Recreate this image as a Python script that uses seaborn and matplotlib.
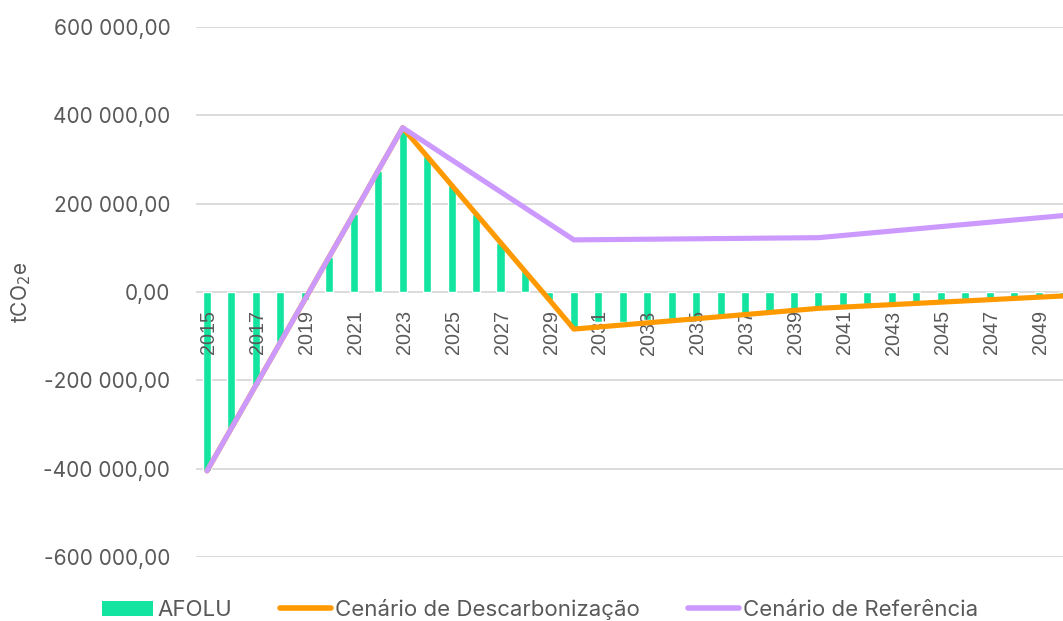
import matplotlib
matplotlib.use("Agg")
import matplotlib.pyplot as plt
import seaborn as sns
import pandas as pd
from matplotlib.patches import Patch
from matplotlib.lines import Line2D

# values (tCO2e)
years = list(range(2015, 2051))

afolu = [-405000, -308000, -211000, -114000, -17000, 80000, 177000, 275000, 372000,
         307000, 242000, 177000, 112000, 47000, -18000, -84000,
         -68000, -67000, -63000, -60000, -56000, -52000, -48500, -45000, -41000, -37000,
         -29500, -27000, -24000, -22000, -19500, -16500, -14500, -10500, -8500, -6000]

descarbonizacao = [-405000, -308000, -211000, -114000, -17000, 80000, 177000, 275000, 372000,
                   307000, 242000, 177000, 112000, 47000, -18000, -84000,
                   -79300, -74600, -69900, -65200, -60500, -55800, -51100, -46400, -41700, -37000,
                   -34200, -31400, -28600, -25800, -23000, -20200, -17400, -14600, -11800, -9000]

referencia = [-405000, -308000, -211000, -114000, -17000, 80000, 177000, 275000, 372000,
              335700, 299400, 263100, 226900, 190600, 154300, 118000,
              118500, 119000, 119500, 120000, 120500, 121000, 121500, 122000, 122500, 123000,
              128000, 133000, 138000, 143000, 148000, 153000, 158000, 163000, 168000, 173000]

label_years = list(range(2015, 2050, 2))

GREEN = "#13E4A0"
ORANGE = "#FF9900"
PURPLE = "#CC99FF"
GREY = "#595959"
GRID = "#D9D9D9"

sns.set_style("white")
plt.rcParams["font.family"] = ["Inter", "DejaVu Sans"]

df = pd.DataFrame({"ano": years, "AFOLU": afolu,
                   "desc": descarbonizacao, "ref": referencia})

fig = plt.figure(figsize=(10.63, 6.21), dpi=100)
ax = fig.add_axes([196 / 1063, 64 / 621, 1 - 196 / 1063, 530 / 621])

sns.barplot(data=df, x="ano", y="AFOLU", native_scale=True, color=GREEN,
            width=0.33, saturation=1, ax=ax, zorder=2)
sns.lineplot(data=df, x="ano", y="desc", color=ORANGE, lw=3.7, ax=ax, zorder=4,
             solid_capstyle="round")
sns.lineplot(data=df, x="ano", y="ref", color=PURPLE, lw=3.7, ax=ax, zorder=5,
             solid_capstyle="round")

ax.set_xlim(2014.55, 2050)
ax.set_ylim(-600000, 600000)
yt = list(range(-600000, 600001, 200000))
ax.set_yticks(yt)
ax.set_yticklabels([f"{v:,.2f}".replace(",", " ").replace(".", ",") for v in yt],
                   fontsize=15, color=GREY)
ax.yaxis.grid(True, color=GRID, lw=1.3, zorder=0)
ax.set_axisbelow(True)
ax.tick_params(axis="y", length=0, pad=18.5)

# year labels hang below the zero line, drawn above the bars
ax.set_xticks([])
for yr in label_years:
    ax.annotate(str(yr), xy=(yr, 0), xytext=(1.2, -13.2), textcoords="offset points",
                rotation=90, rotation_mode="anchor", ha="right", va="center",
                fontsize=14.2, color=GREY,
                family=["Liberation Sans", "DejaVu Sans"], zorder=3)
for s in ax.spines.values():
    s.set_visible(False)

ax.set_xlabel("")
ax.set_ylabel("tCO$_2$e", fontsize=15, color=GREY)
ax.yaxis.set_label_coords((33 - 196) / 867, 0.5)

handles = [Patch(facecolor=GREEN, edgecolor="none"),
           Line2D([0], [0], color=ORANGE, lw=4, solid_capstyle="round"),
           Line2D([0], [0], color=PURPLE, lw=4, solid_capstyle="round")]
labels = ["AFOLU", "Cenário de Descarbonização", "Cenário de Referência"]
leg = fig.legend(handles, labels, loc="lower center", bbox_to_anchor=(0.508, -0.031),
                 ncol=3, frameon=False, fontsize=16, handlelength=2.3,
                 handletextpad=0.2, columnspacing=2.15, handleheight=0.7)
for t in leg.get_texts():
    t.set_color(GREY)

fig.savefig("out.png", dpi=100)
